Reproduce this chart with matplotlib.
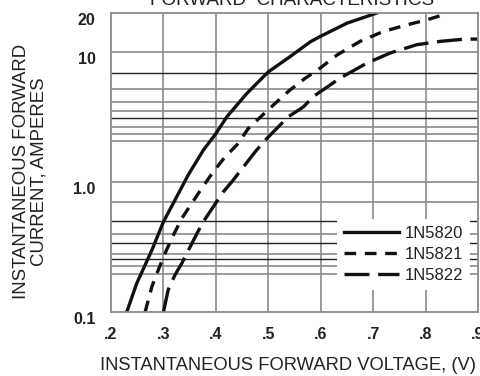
import matplotlib
matplotlib.use("Agg")
import matplotlib.pyplot as plt
from matplotlib.transforms import ScaledTranslation

plt.rcParams['font.family'] = ['Liberation Sans', 'DejaVu Sans']

# forward voltage (V) / current (A)
v_5820 = [0.230, 0.249, 0.278, 0.300, 0.322, 0.347, 0.376, 0.398, 0.421, 0.459,
          0.500, 0.541, 0.580, 0.599, 0.650, 0.707]
i_5820 = [0.10, 0.166, 0.30, 0.495, 0.727, 1.13, 1.76, 2.30, 3.18, 4.81,
          7.05, 9.2, 12.0, 13.2, 16.7, 20.0]

v_5821 = [0.265, 0.278, 0.290, 0.303, 0.319, 0.335, 0.354, 0.373, 0.395, 0.418,
          0.440, 0.462, 0.487, 0.513, 0.541, 0.570, 0.599, 0.631, 0.675, 0.719,
          0.764, 0.802, 0.834]
i_5821 = [0.10, 0.157, 0.21, 0.283, 0.391, 0.526, 0.686, 0.895, 1.2, 1.57,
          1.93, 2.59, 3.22, 4.03, 5.1, 6.28, 7.54, 9.5, 12.1, 14.4,
          16.2, 17.7, 19.4]

v_5822 = [0.300, 0.309, 0.322, 0.335, 0.364, 0.376, 0.414, 0.430, 0.475, 0.494,
          0.538, 0.567, 0.586, 0.637, 0.688, 0.732, 0.783, 0.828, 0.875, 0.900]
i_5822 = [0.10, 0.148, 0.193, 0.237, 0.403, 0.495, 0.84, 1.0, 1.71, 2.1,
          3.18, 3.79, 4.56, 6.31, 8.23, 9.83, 11.4, 12.1, 12.6, 12.6]

labels = ['1N5820', '1N5821', '1N5822']

x_ticks = [0.2, 0.3, 0.4, 0.5, 0.6, 0.7, 0.8, 0.9]
x_ticklabels = ['.2', '.3', '.4', '.5', '.6', '.7', '.8', '.9']
y_ticks = [0.1, 1.0, 10, 20]
y_ticklabels = ['0.1', '1.0', '10', '20']

# the scanned grid is not a clean log grid
grid_gray = [0.698, 0.396, 0.278, 0.227, 0.196, 1.0, 5.19, 4.15, 3.52, 2.66, 2.34, 2.08, 10]
grid_dark = [0.501, 0.338, 0.256, 6.85, 3.09]

fig = plt.figure(figsize=(4.8, 3.76), dpi=100)
ax = fig.add_axes([0.2313, 0.1702, 0.7646, 0.7952])
ax.set_yscale('log')
ax.set_xlim(0.2, 0.9)
ax.set_ylim(0.1, 20)

for x in x_ticks[1:-1]:
    ax.axvline(x, color='#8a8a8a', lw=1.2, zorder=1)
for y in grid_gray:
    ax.axhline(y, color='#8a8a8a', lw=1.2, zorder=1)
for y in grid_dark:
    ax.axhline(y, color='#222222', lw=1.0, zorder=1)

ax.plot(v_5820, i_5820, color='#111111', lw=2.4, solid_joinstyle='round', label=labels[0])
ax.plot(v_5821, i_5821, color='#111111', lw=2.4, dashes=(3.5, 2.6), label=labels[1])
ax.plot(v_5822, i_5822, color='#111111', lw=2.4, dashes=(7.5, 2.6), label=labels[2])

for s in ax.spines.values():
    s.set_color('#8a8a8a')
    s.set_linewidth(1.3)

ax.set_xticks(x_ticks)
ax.set_xticklabels(x_ticklabels, fontsize=11.5, fontweight='bold', color='#222222')
ax.set_yticks(y_ticks)
ax.set_yticklabels(y_ticklabels, fontsize=11.5, fontweight='bold', color='#222222')
ax.minorticks_off()
ax.tick_params(axis='both', length=0)
ax.tick_params(axis='x', pad=11)
ax.tick_params(axis='y', pad=11)
for lab in ax.get_yticklabels():
    lab.set_transform(lab.get_transform() + ScaledTranslation(0, -4 / 72, fig.dpi_scale_trans))

leg = ax.legend(loc='upper left', bbox_to_anchor=(0.616, 0.31), borderaxespad=0,
                fontsize=12, handlelength=3.3, handletextpad=0.35, labelspacing=0.36,
                borderpad=0.4, fancybox=False, framealpha=1)
leg.get_frame().set_edgecolor('white')
leg.get_frame().set_linewidth(0)
for t in leg.get_texts():
    t.set_color('#222222')

ax.set_xlabel('INSTANTANEOUS FORWARD VOLTAGE, (V)', fontsize=13.2, color='#222222')
ax.xaxis.set_label_coords(0.481, -0.152)
fig.text(0.063, 0.543, 'INSTANTANEOUS FORWARD\nCURRENT, AMPERES', rotation=90,
         ha='center', va='center', multialignment='center', fontsize=13.4,
         linespacing=1.0, color='#222222')
fig.text(0.608, 1 - 5 / 376, 'FORWARD  CHARACTERISTICS', ha='center', va='baseline',
         fontsize=13.6, color='#222222')

fig.savefig('out.png', dpi=100)
